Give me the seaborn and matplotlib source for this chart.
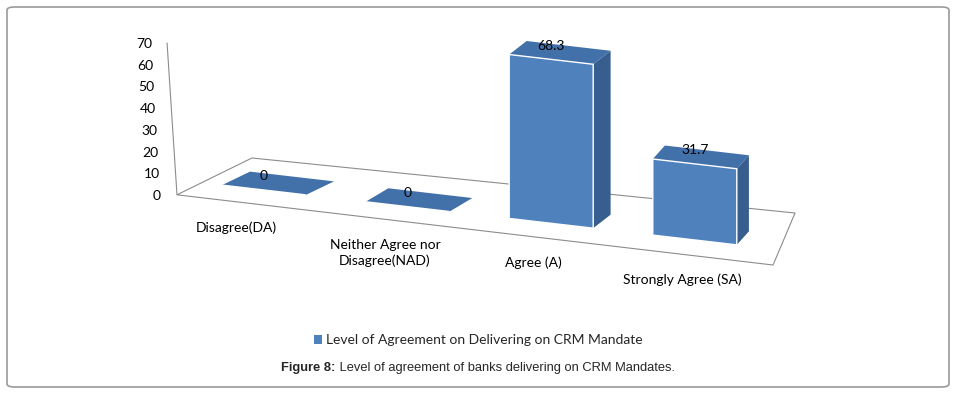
import numpy as np
import matplotlib
matplotlib.use("Agg")
import matplotlib.pyplot as plt
from matplotlib.transforms import Affine2D, ScaledTranslation
from matplotlib.patches import Polygon, Patch, FancyBboxPatch, Rectangle
from matplotlib.lines import Line2D
import seaborn as sns

# ---- data ----
categories = ["Disagree(DA)", "Neither Agree nor\nDisagree(NAD)", "Agree (A)", "Strongly Agree (SA)"]
values = [0, 0, 68.3, 31.7]
series_name = "Level of Agreement on Delivering on CRM Mandate"
yticks = [0, 10, 20, 30, 40, 50, 60, 70]
caption_bold = "Figure 8:"
caption_rest = " Level of agreement of banks delivering on CRM Mandates."

# ---- style constants ----
W, H, DPI = 956, 393, 100
FRONT = "#4F81BD"
TOP = "#4270A8"
SIDE = "#375E8E"
PX_PER_CAT = 143.6
PX_PER_UNIT = 2.4
X0 = 264.0          # pixel x of first category centre
BASE_Y = 190.0      # pixel y (from top) of the base at first centre
SLOPE = 0.116       # floor tilt
DEPTH_UP_PX = 13.5
FLOOR = [(-0.606, -6.21), (3.545, -6.65), (3.698, 16.08), (-0.084, 12.75)]
AXIS_LINE = [(-0.675, 56.56), (-0.606, -6.21)]
LABEL_SPREAD, LABEL_SHIFT, LABEL_DROP = 1.0355, -0.1936, -14.6
FS = 10

sns.set_theme(style="white")
plt.rcParams["font.family"] = ["Lato", "DejaVu Sans"]

fig = plt.figure(figsize=(W / DPI, H / DPI), dpi=DPI)

# border
fig.patches.append(FancyBboxPatch((7 / W, 6 / H), 942 / W, 380 / H,
                                  boxstyle="round,pad=0,rounding_size=0.008",
                                  transform=fig.transFigure, fill=False,
                                  edgecolor="#9a9a9a", linewidth=1.2))

# bar axes spanning whole figure, sheared for pseudo-3D
ax = fig.add_axes([0, 0, 1, 1])
ax.patch.set_alpha(0)
sns.barplot(x=categories, y=values, color=FRONT, saturation=1, width=0.585,
            ax=ax, zorder=5)
xa = -X0 / PX_PER_CAT
ax.set_xlim(xa, xa + W / PX_PER_CAT)
yb = -(H - BASE_Y) / PX_PER_UNIT
ax.set_ylim(yb, yb + H / PX_PER_UNIT)
ax.axis("off")

shear = Affine2D(np.array([[1, 0, 0], [-SLOPE, 1, SLOPE * X0], [0, 0, 1]]))
tr = ax.transData + shear

# floor and back-wall axis line
ax.add_patch(Polygon(FLOOR, closed=True, fill=False, edgecolor="#8c8c8c",
                     linewidth=0.8, transform=tr, zorder=1))
ax.add_line(Line2D([p[0] for p in AXIS_LINE], [p[1] for p in AXIS_LINE],
                   color="#8c8c8c", linewidth=0.8, transform=tr, zorder=1))

bars = [p for p in ax.patches if isinstance(p, Rectangle)]
for i, p in enumerate(bars):
    p.set_transform(tr)
    dx_px = 28 - 5.3 * i
    ddx = dx_px / PX_PER_CAT
    ddy = (DEPTH_UP_PX + SLOPE * dx_px) / PX_PER_UNIT
    x0, w, h = p.get_x(), p.get_width(), p.get_height()
    side = Polygon([(x0 + w, 0), (x0 + w + ddx, ddy),
                    (x0 + w + ddx, h + ddy), (x0 + w, h)],
                   closed=True, facecolor=SIDE, edgecolor="none",
                   transform=tr, zorder=3)
    top = Polygon([(x0, h), (x0 + w, h), (x0 + w + ddx, h + ddy),
                   (x0 + ddx, h + ddy)],
                  closed=True, facecolor=TOP, edgecolor="none",
                  transform=tr, zorder=4)
    ax.add_patch(side)
    ax.add_patch(top)
    ax.text(x0 + w / 2, h + DEPTH_UP_PX / PX_PER_UNIT, f"{values[i]:g}",
            transform=tr, ha="center", va="center", fontsize=FS,
            color="black", zorder=10)

for i, c in enumerate(categories):
    ax.text(i * LABEL_SPREAD + LABEL_SHIFT, LABEL_DROP, c, transform=tr,
            ha="center", va="top", fontsize=FS, color="black",
            linespacing=1.3, zorder=10)

# value axis on the back wall
ax2 = fig.add_axes([171 / W, (H - 195) / H, 0.0005, 152 / H])
ax2.set_ylim(0, 70)
ax2.set_yticks(yticks)
ax2.set_yticklabels([str(t) for t in yticks], fontsize=FS)
ax2.set_xticks([])
for s in ["top", "right", "bottom", "left"]:
    ax2.spines[s].set_visible(False)
ax2.tick_params(axis="y", length=0, pad=7.2, colors="black")
ax2.patch.set_alpha(0)
for t, lab in zip(yticks, ax2.get_yticklabels()):
    lab.set_transform(lab.get_transform() +
                      ScaledTranslation(-(t / 70) * 9 / DPI, 0, fig.dpi_scale_trans))

# legend
fig.legend(handles=[Patch(facecolor=FRONT, edgecolor="none")], labels=[series_name],
           loc="center", bbox_to_anchor=(0.5, 1 - 340 / H), frameon=False,
           fontsize=FS, handlelength=0.6, handleheight=0.6, handletextpad=0.25)

# caption
fig.canvas.draw()
r = fig.canvas.get_renderer()
cy = 1 - 368 / H
t1 = fig.text(0, cy, caption_bold, fontsize=9.3, fontweight="bold",
              family="Liberation Sans", va="center", ha="left")
t2 = fig.text(0, cy, caption_rest, fontsize=9.3, family="Liberation Sans",
              va="center", ha="left")
w1 = t1.get_window_extent(r).width
w2 = t2.get_window_extent(r).width
start = 478 - (w1 + w2) / 2
t1.set_x(start / W)
t2.set_x((start + w1) / W)

fig.savefig("out.png", dpi=DPI)
